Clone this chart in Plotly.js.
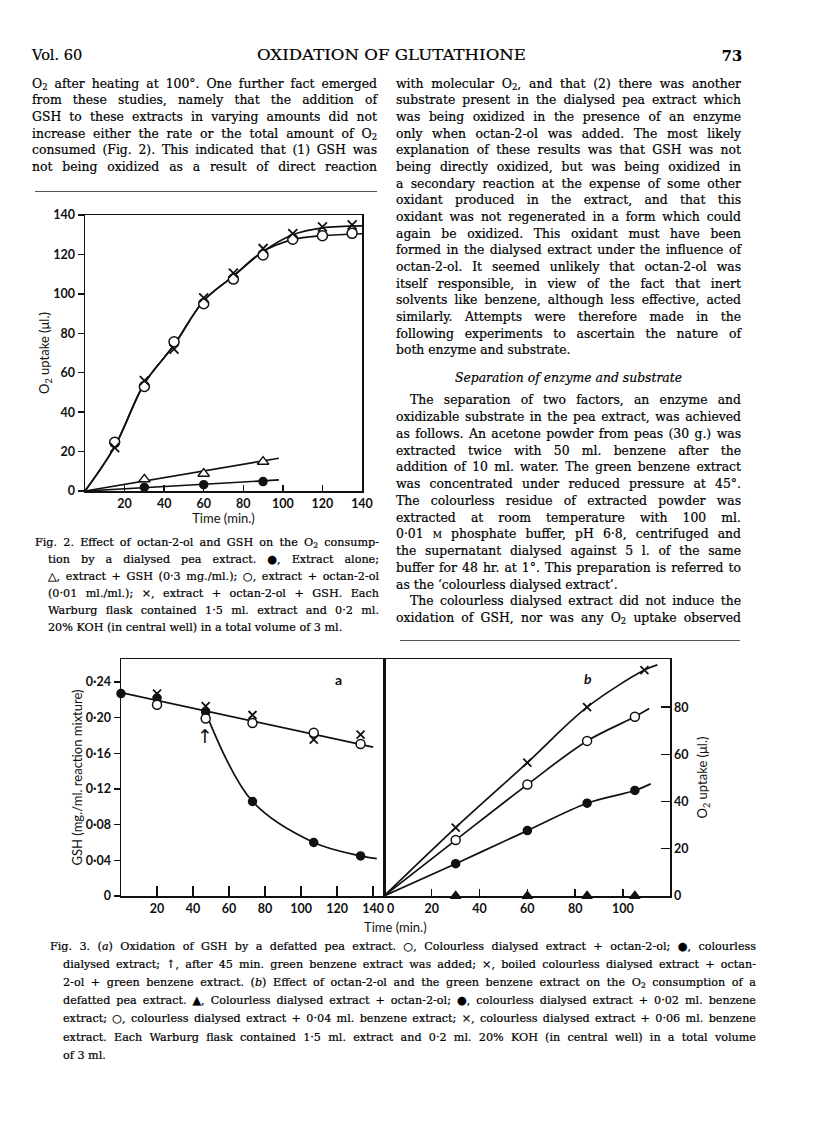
<!DOCTYPE html>
<html><head><meta charset="utf-8">
<script src="https://cdn.plot.ly/plotly-3.0.1.min.js"></script>
<style>
html,body{margin:0;padding:0;background:#fff;}
body{width:816px;height:1145px;overflow:hidden;position:relative;}
#chart{position:absolute;left:0;top:0;width:816px;height:1145px;}
.ln{position:absolute;white-space:nowrap;font-family:"DejaVu Serif",serif;color:#000;-webkit-text-stroke:0.2px #000;}
.ln span.t{display:inline-block;transform-origin:0 50%;}
sub{font-size:0.68em;vertical-align:-0.28em;line-height:0;}
.rule{position:absolute;height:1px;background:#555;}
</style></head><body>
<div id="chart"></div>
<script>
// ---------------- DATA ----------------
// Fig. 2  O2 uptake (µl.) vs time (min.)
const fig2Time = [15, 30, 45, 60, 75, 90, 105, 120, 135];
const fig2OctanGSH = [22, 56, 72, 98, 110.5, 123, 130.5, 134, 135];      // ×
const fig2Octan = [24.7, 53, 75.7, 95, 107.5, 119.7, 127.7, 129.5, 130.7]; // ○
const fig2GSHTime = [30, 60, 90];
const fig2GSH = [5.9, 8.8, 14.9];                                          // △
const fig2Alone = [1.9, 3.2, 4.8];                                         // ●
// drawn curves
const fig2CurveTime = [0, 15, 30, 45, 60, 75, 90, 105, 120, 140];
const fig2CurveOctanGSH = [0, 22.5, 54.5, 74, 96.5, 109, 121.5, 130, 133.5, 134.5];
const fig2CurveOctan = [0, 22.5, 54.5, 74, 96.5, 109, 121.5, 127.5, 129.5, 130.5];
const fig2LineTime = [0, 98];
const fig2LineGSH = [0, 16.6];
const fig2LineAlone = [0, 5.6];
const fig2XTicks = [20, 40, 60, 80, 100, 120, 140];
const fig2YTicks = [0, 20, 40, 60, 80, 100, 120, 140];

// Fig. 3a  GSH (mg./ml.) vs time (min.)
const fig3aTime = [20, 47, 73, 107, 133];
const fig3aOctan = [0.2145, 0.199, 0.194, 0.183, 0.1705];   // ○
const fig3aBoiled = [0.227, 0.213, 0.203, 0.1755, 0.181];   // ×
const fig3aDialTime = [0, 20, 47, 73, 107, 133];
const fig3aDial = [0.227, 0.222, 0.206, 0.106, 0.060, 0.045]; // ●
const fig3aLineTime = [0, 140];
const fig3aLine = [0.228, 0.167];
const fig3aCurveTime = [47, 73, 107, 133, 142];
const fig3aCurve = [0.206, 0.106, 0.060, 0.045, 0.042];
const fig3aArrowTime = 46.5;     // green benzene extract added
const fig3aArrowLevel = 0.179;
const fig3aXTicks = [20, 40, 60, 80, 100, 120, 140];
const fig3aYTicks = [0, 0.04, 0.08, 0.12, 0.16, 0.20, 0.24];
const fig3aYLabels = ['0', '0·04', '0·08', '0·12', '0·16', '0·20', '0·24'];

// Fig. 3b  O2 uptake (µl.) vs time (min.)
const fig3bTime = [30, 60, 85, 105];
const fig3bCrossTime = [30, 60, 85, 109];
const fig3b06 = [29, 56.5, 80, 95.7];     // ×
const fig3b04 = [23.7, 47.2, 65.7, 75.9]; // ○
const fig3b02 = [13.7, 27.7, 39.3, 44.7]; // ●
const fig3bOctan = [0, 0, 0, 0];          // ▲
const fig3bCurve06Time = [0, 30, 60, 85, 109, 114.4];
const fig3bCurve06 = [0, 29, 56.5, 80, 95.7, 97.9];
const fig3bCurve04Time = [0, 30, 60, 85, 105, 111];
const fig3bCurve04 = [0, 23.7, 47.2, 65.7, 75.9, 79.4];
const fig3bCurve02Time = [0, 30, 60, 85, 105, 111.6];
const fig3bCurve02 = [0, 13.7, 27.7, 39.3, 44.7, 47.5];
const fig3bXTicks = [20, 40, 60, 80, 100];
const fig3bYTicks = [0, 20, 40, 60, 80];

// ---------------- CHART ----------------
const W = 816, H = 1145;
const dx = p => p / W, dy = p => 1 - p / H;
const K = '#111';
const tickFont = {family: 'Lato, "DejaVu Sans", sans-serif', size: 12.5, color: K, weight: 700};
const titleFont = {family: 'Lato, "DejaVu Sans", sans-serif', size: 13, color: K};

function lineTr(x, y, xa, ya, spline) {
  return {x: x, y: y, xaxis: xa, yaxis: ya, mode: 'lines', hoverinfo: 'skip',
    line: {color: K, width: 1.7, shape: spline ? 'spline' : 'linear', smoothing: 1}};
}
function markTr(x, y, xa, ya, kind, size) {
  const m = {size: size, color: K, line: {color: K, width: 1.5}};
  if (kind === 'open') { m.symbol = 'circle'; m.color = '#fff'; }
  else if (kind === 'filled') { m.symbol = 'circle'; }
  else if (kind === 'cross') { m.symbol = 'x-thin'; m.line.width = 1.8; }
  else if (kind === 'tri') { m.symbol = 'triangle-up'; m.color = '#fff'; }
  else if (kind === 'trifill') { m.symbol = 'triangle-up'; }
  return {x: x, y: y, xaxis: xa, yaxis: ya, mode: 'markers', marker: m, hoverinfo: 'skip', cliponaxis: false};
}

const traces = [
  lineTr(fig2CurveTime, fig2CurveOctanGSH, 'x', 'y', true),
  lineTr(fig2CurveTime, fig2CurveOctan, 'x', 'y', true),
  lineTr(fig2LineTime, fig2LineGSH, 'x', 'y', false),
  lineTr(fig2LineTime, fig2LineAlone, 'x', 'y', false),
  markTr(fig2GSHTime, fig2GSH, 'x', 'y', 'tri', 10),
  markTr(fig2GSHTime, fig2Alone, 'x', 'y', 'filled', 8),
  markTr(fig2Time, fig2Octan, 'x', 'y', 'open', 10),
  markTr(fig2Time, fig2OctanGSH, 'x', 'y', 'cross', 9),

  lineTr(fig3aLineTime, fig3aLine, 'x2', 'y2', false),
  lineTr(fig3aCurveTime, fig3aCurve, 'x2', 'y2', true),
  markTr(fig3aDialTime, fig3aDial, 'x2', 'y2', 'filled', 8),
  markTr(fig3aTime, fig3aOctan, 'x2', 'y2', 'open', 9),
  markTr(fig3aTime, fig3aBoiled, 'x2', 'y2', 'cross', 8),

  lineTr(fig3bCurve06Time, fig3bCurve06, 'x3', 'y3', true),
  lineTr(fig3bCurve04Time, fig3bCurve04, 'x3', 'y3', true),
  lineTr(fig3bCurve02Time, fig3bCurve02, 'x3', 'y3', true),
  markTr(fig3bTime, fig3bOctan, 'x3', 'y3', 'trifill', 9),
  markTr(fig3bTime, fig3b02, 'x3', 'y3', 'filled', 8),
  markTr(fig3bTime, fig3b04, 'x3', 'y3', 'open', 9),
  markTr(fig3bCrossTime, fig3b06, 'x3', 'y3', 'cross', 8)
];

function ax(o) {
  return Object.assign({showline: true, linecolor: K, linewidth: 1.5, showgrid: false, zeroline: false,
    tickcolor: K, tickwidth: 1.4, tickfont: tickFont, fixedrange: true, automargin: false}, o);
}

const layout = {
  width: W, height: H, margin: {l: 0, r: 0, t: 0, b: 0},
  paper_bgcolor: 'rgba(0,0,0,0)', plot_bgcolor: 'rgba(0,0,0,0)', showlegend: false,
  xaxis: ax({domain: [dx(85), dx(362)], range: [0, 140], anchor: 'y', mirror: true, ticks: 'inside', ticklen: 6,
    tickvals: fig2XTicks, ticktext: fig2XTicks.map(String),
    title: {text: 'Time (min.)', font: titleFont, standoff: 4}}),
  yaxis: ax({domain: [dy(491), dy(215)], range: [0, 140], anchor: 'x', mirror: true, ticks: 'outside', ticklen: 6,
    tickvals: fig2YTicks, ticktext: fig2YTicks.map(String),
    title: {text: 'O<sub>2</sub> uptake (μl.)', font: titleFont, standoff: 0}}),
  xaxis2: ax({domain: [dx(121), dx(384)], range: [0, 146], anchor: 'y2', mirror: true, ticks: 'inside', ticklen: 10,
    tickvals: fig3aXTicks, ticktext: fig3aXTicks.map(String)}),
  yaxis2: ax({domain: [dy(896), dy(659)], range: [0, 0.2658], anchor: 'x2', mirror: true, ticks: 'outside', ticklen: 6,
    tickvals: fig3aYTicks, ticktext: fig3aYLabels,
    title: {text: 'GSH (mg./ml. reaction mixture)', font: titleFont, standoff: 0}}),
  xaxis3: ax({domain: [dx(384), dx(670)], range: [0, 119.7], anchor: 'y3', mirror: true, ticks: 'inside', ticklen: 7,
    tickvals: fig3bXTicks, ticktext: fig3bXTicks.map(String)}),
  yaxis3: ax({domain: [dy(896), dy(659)], range: [0, 100.4], anchor: 'x3', side: 'right', mirror: true, ticks: 'inside', ticklen: 9,
    tickvals: fig3bYTicks, ticktext: fig3bYTicks.map(String),
    title: {text: 'O<sub>2</sub> uptake (μl.)', font: titleFont, standoff: 10}}),
  annotations: [
    {xref: 'x2', yref: 'y2', x: fig3aArrowTime, y: fig3aArrowLevel, text: '↑', showarrow: false,
     xanchor: 'center', yanchor: 'middle',
     font: {family: '"DejaVu Sans", sans-serif', size: 19, color: K}},
    {xref: 'x2', yref: 'y2', x: 121, y: 0.243, text: 'a', showarrow: false,
     font: {family: 'Lato, sans-serif', size: 14, color: K, weight: 700}},
    {xref: 'x3', yref: 'y3', x: 85.5, y: 92, text: '<i>b</i>', showarrow: false,
     font: {family: 'Lato, sans-serif', size: 14, color: K, weight: 700}},
    {xref: 'x3', yref: 'paper', x: 0, y: dy(908), text: '0', showarrow: false, xanchor: 'left', xshift: 1,
     yanchor: 'middle', font: tickFont},
    {xref: 'paper', yref: 'paper', x: dx(395), y: dy(927), text: 'Time (min.)', showarrow: false,
     xanchor: 'center', yanchor: 'middle', font: titleFont}
  ]
};

Plotly.newPlot('chart', traces, layout, {staticPlot: true, displayModeBar: false});

// ---------------- TEXT ----------------
const leftCol = [
  'O<sub>2</sub> after heating at 100°. One further fact emerged',
  'from these studies, namely that the addition of',
  'GSH to these extracts in varying amounts did not',
  'increase either the rate or the total amount of O<sub>2</sub>',
  'consumed (Fig. 2). This indicated that (1) GSH was',
  'not being oxidized as a result of direct reaction'
];
const rightCol = [
  'with molecular O<sub>2</sub>, and that (2) there was another',
  'substrate present in the dialysed pea extract which',
  'was being oxidized in the presence of an enzyme',
  'only when octan-2-ol was added. The most likely',
  'explanation of these results was that GSH was not',
  'being directly oxidized, but was being oxidized in',
  'a secondary reaction at the expense of some other',
  'oxidant produced in the extract, and that this',
  'oxidant was not regenerated in a form which could',
  'again be oxidized. This oxidant must have been',
  'formed in the dialysed extract under the influence of',
  'octan-2-ol. It seemed unlikely that octan-2-ol was',
  'itself responsible, in view of the fact that inert',
  'solvents like benzene, although less effective, acted',
  'similarly. Attempts were therefore made in the',
  'following experiments to ascertain the nature of',
  'both enzyme and substrate.'
];
const rightCol2 = [
  'The separation of two factors, an enzyme and',
  'oxidizable substrate in the pea extract, was achieved',
  'as follows. An acetone powder from peas (30 g.) was',
  'extracted twice with 50 ml. benzene after the',
  'addition of 10 ml. water. The green benzene extract',
  'was concentrated under reduced pressure at 45°.',
  'The colourless residue of extracted powder was',
  'extracted at room temperature with 100 ml.',
  '0·01 <span style="font-variant:small-caps">m</span> phosphate buffer, pH 6·8, centrifuged and',
  'the supernatant dialysed against 5 l. of the same',
  'buffer for 48 hr. at 1°. This preparation is referred to',
  'as the ‘colourless dialysed extract’.',
  'The colourless dialysed extract did not induce the',
  'oxidation of GSH, nor was any O<sub>2</sub> uptake observed'
];
const fig2Caption = [
  'Fig. 2. Effect of octan-2-ol and GSH on the O<sub>2</sub> consump-',
  'tion by a dialysed pea extract. ●, Extract alone;',
  '△, extract + GSH (0·3 mg./ml.); ○, extract + octan-2-ol',
  '(0·01 ml./ml.); ×, extract + octan-2-ol + GSH. Each',
  'Warburg flask contained 1·5 ml. extract and 0·2 ml.',
  '20% KOH (in central well) in a total volume of 3 ml.'
];
const fig3Caption = [
  'Fig. 3. (<i>a</i>) Oxidation of GSH by a defatted pea extract. ○, Colourless dialysed extract + octan-2-ol; ●, colourless',
  'dialysed extract; ↑, after 45 min. green benzene extract was added; ×, boiled colourless dialysed extract + octan-',
  '2-ol + green benzene extract. (<i>b</i>) Effect of octan-2-ol and the green benzene extract on the O<sub>2</sub> consumption of a',
  'defatted pea extract. ▲, Colourless dialysed extract + octan-2-ol; ●, colourless dialysed extract + 0·02 ml. benzene',
  'extract; ○, colourless dialysed extract + 0·04 ml. benzene extract; ×, colourless dialysed extract + 0·06 ml. benzene',
  'extract. Each Warburg flask contained 1·5 ml. extract and 0·2 ml. 20% KOH (in central well) in a total volume',
  'of 3 ml.'
];

const placed = [];
function put(html, x, yc, w, o) {
  o = o || {};
  const size = o.size || 12.4, lh = Math.round(size * 1.3);
  const d = document.createElement('div');
  d.className = 'ln';
  d.style.left = x + 'px';
  d.style.width = w + 'px';
  d.style.fontSize = size + 'px';
  d.style.lineHeight = lh + 'px';
  d.style.top = (yc - lh / 2 - size * 0.22) + 'px';
  if (o.align) d.style.textAlign = o.align;
  if (o.italic) d.style.fontStyle = 'italic';
  if (o.bold) d.style.fontWeight = 'bold';
  const s = document.createElement('span');
  s.className = 't';
  s.innerHTML = html;
  d.appendChild(s);
  document.body.appendChild(d);
  placed.push({d: d, s: s, w: w, o: o});
}
function fitAll() {
  placed.forEach(p => {
    const nat = p.s.getBoundingClientRect().width;
    if (p.o.justify && nat < p.w) {
      const n = (p.s.textContent.match(/ /g) || []).length;
      if (n > 0) p.s.style.wordSpacing = ((p.w - nat) / n) + 'px';
    } else if (p.o.stretch || nat > p.w) {
      p.s.style.transform = 'scaleX(' + (p.w / nat) + ')';
    }
  });
}

// header
put('Vol. 60', 32, 59, 60, {size: 14.5});
put('OXIDATION OF GLUTATHIONE', 257, 59, 269, {size: 14.5, stretch: true});
put('73', 700, 59, 42, {size: 14.5, bold: true, align: 'right'});

// columns
const colL = 32, colR = 396, colW = 345, lineH = 16.65, top1 = 86.5;
leftCol.forEach((t, i) => put(t, colL, top1 + i * lineH, colW, {justify: true}));
rightCol.forEach((t, i) => put(t, colR, top1 + i * lineH, colW, {justify: i < rightCol.length - 1}));
put('Separation of enzyme and substrate', colR, 381, colW, {italic: true, align: 'center'});
rightCol2.forEach((t, i) => {
  const ind = (i === 0 || i === 12) ? 14 : 0;
  put(t, colR + ind, 403 + i * 16.75, colW - ind, {justify: i !== 11});
});

// captions
fig2Caption.forEach((t, i) => {
  const ind = i === 0 ? 0 : 13;
  put(t, 35 + ind, 545 + i * 17, 344 - ind, {size: 11.2, justify: i < fig2Caption.length - 1});
});
fig3Caption.forEach((t, i) => {
  const ind = i === 0 ? 0 : 13;
  put(t, 50 + ind, 949 + i * 18.1, 706 - ind, {size: 11.2, justify: i < fig3Caption.length - 1});
});

// rules
[[35, 191, 342], [400, 640, 340]].forEach(r => {
  const e = document.createElement('div');
  e.className = 'rule';
  e.style.left = r[0] + 'px'; e.style.top = r[1] + 'px'; e.style.width = r[2] + 'px';
  document.body.appendChild(e);
});

if (document.fonts && document.fonts.ready) document.fonts.ready.then(fitAll); else fitAll();
</script>
</body></html>
